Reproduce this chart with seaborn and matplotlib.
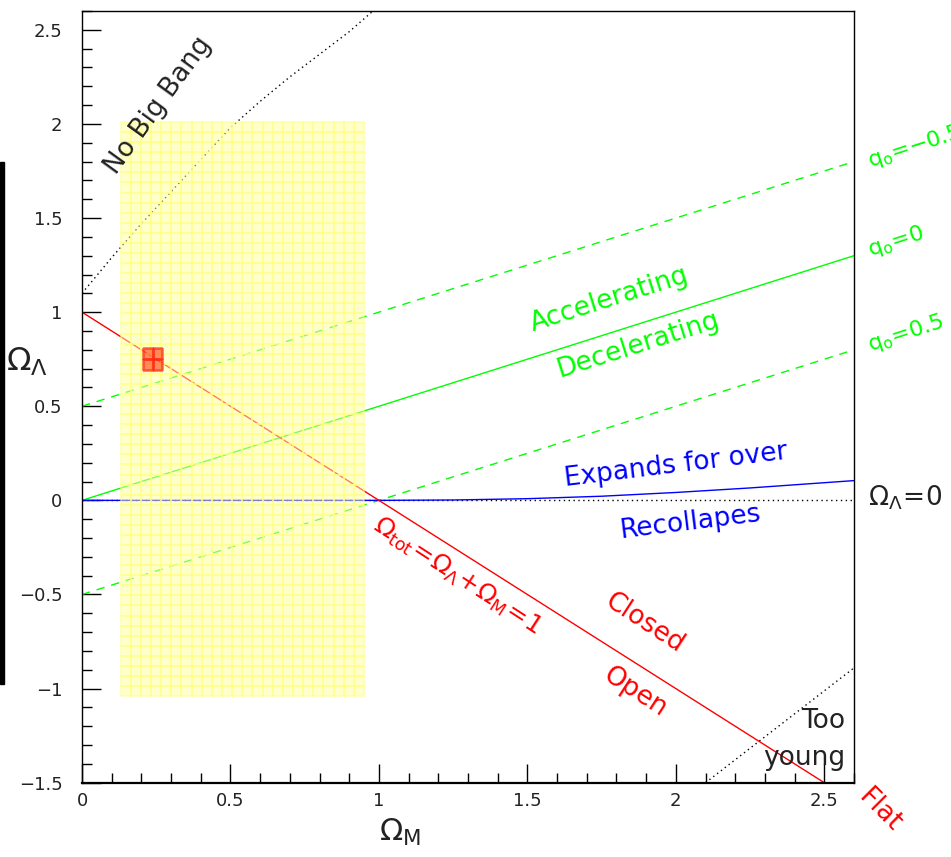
import numpy as np
import pandas as pd
import matplotlib
matplotlib.use('Agg')
import matplotlib.pyplot as plt
from matplotlib.colors import ListedColormap
from matplotlib.patches import Rectangle
import seaborn as sns

# ---- data ----
flat_m = [0.0, 2.5]
flat_l = [1.0, -1.5]

q_m = [0.0, 2.6]
q_minus = [0.5, 1.8]
q_zero = [0.0, 1.3]
q_plus = [-0.5, 0.8]

expand_m = [0.0, 1.0, 1.25, 1.5, 1.75, 2.0, 2.25, 2.6]
expand_l = [0.0, 0.0, 0.002, 0.009, 0.022, 0.042, 0.066, 0.105]

nobang_m = [0.0, 0.1, 0.2, 0.3, 0.4, 0.5, 0.6, 0.7, 0.8, 0.9, 0.98]
nobang_l = [1.10, 1.29, 1.47, 1.64, 1.81, 1.98, 2.12, 2.25, 2.37, 2.49, 2.60]

young_m = [2.1, 2.6]
young_l = [-1.5, -0.89]

zero_m = [0.0, 2.6]
zero_l = [0.0, 0.0]

box_m = [0.13, 0.95]
box_l = [-1.04, 2.01]
meas_m = [0.205, 0.27]
meas_l = [0.69, 0.81]

x_ticks = [0, 0.5, 1, 1.5, 2, 2.5]
x_labels = ['0', '0.5', '1', '1.5', '2', '2.5']
y_ticks = [-1.5, -1, -0.5, 0, 0.5, 1, 1.5, 2, 2.5]
y_labels = ['\u22121.5', '\u22121', '\u22120.5', '0', '0.5', '1', '1.5', '2', '2.5']

RED = '#ff0000'
GREEN = '#00ff00'
BLUE = '#0000ff'
INK = '#222222'

sns.set_style('white')
plt.rcParams['font.family'] = ['DejaVu Sans']
plt.rcParams['mathtext.fontset'] = 'dejavusans'

fig = plt.figure(figsize=(9.51, 8.57), dpi=100)
ax = fig.add_axes([82 / 951, 1 - 782.7 / 857, (854 - 82) / 951, (782.7 - 11) / 857])

def line(xs, ys, color, ls='-', lw=1.0, z=2):
    df = pd.DataFrame({'x': xs, 'y': ys})
    sns.lineplot(data=df, x='x', y='y', ax=ax, color=color, linestyle=ls,
                 linewidth=lw, zorder=z, estimator=None, sort=False)

line(zero_m, zero_l, 'black', ls=(0, (1, 2.5)), lw=1.0)
line(nobang_m, nobang_l, 'black', ls=(0, (1, 2.5)), lw=1.0)
line(young_m, young_l, 'black', ls=(0, (1, 2.5)), lw=1.0)
line(q_m, q_minus, GREEN, ls=(0, (6, 5)))
line(q_m, q_zero, GREEN)
line(q_m, q_plus, GREEN, ls=(0, (6, 5)))
line(expand_m, expand_l, BLUE)
line(flat_m, flat_l, RED)

# yellow allowed region (2D box with fine cell grid)
bx = np.linspace(box_m[0], box_m[1], 25)
by = np.linspace(box_l[0], box_l[1], 58)
ax.pcolormesh(bx, by, np.zeros((len(by) - 1, len(bx) - 1)),
              cmap=ListedColormap(['#ffff99']), edgecolors='#ffff80',
              linewidth=0.35, alpha=0.5, zorder=3)

# measurement square
mx = np.linspace(meas_m[0], meas_m[1], 3)
my = np.linspace(meas_l[0], meas_l[1], 3)
ax.pcolormesh(mx, my, np.zeros((2, 2)), cmap=ListedColormap(['#ff2a10']),
              edgecolors='#ff2a10', linewidth=0.8, alpha=0.55, zorder=4)

ax.set_xlim(0, 2.6)
ax.set_ylim(-1.5, 2.6)
ax.set_xlabel('')
ax.set_ylabel('')

ax.set_xticks(x_ticks)
ax.set_xticklabels(x_labels)
ax.set_yticks(y_ticks)
ax.set_yticklabels(y_labels)
ax.set_xticks(np.arange(0, 2.61, 0.1), minor=True)
ax.set_yticks(np.arange(-1.5, 2.61, 0.1), minor=True)
ax.tick_params(which='both', direction='in', bottom=True, left=True,
               top=False, right=False, color='black', width=1.0,
               labelsize=13, labelcolor=INK)
ax.tick_params(which='major', length=14)
ax.tick_params(which='minor', length=7)
ax.tick_params(axis='x', pad=7)
ax.tick_params(axis='y', pad=14)
for sp in ax.spines.values():
    sp.set_color('black')
    sp.set_linewidth(1.0)
ax.spines['bottom'].set_linewidth(1.6)

# axis titles
ax.text(0.412, -0.064, r'$\Omega_{\mathrm{M}}$', transform=ax.transAxes,
        ha='center', va='center', fontsize=22, color=INK)
ax.text(-0.071, 0.545, r'$\Omega_{\Lambda}$', transform=ax.transAxes,
        ha='center', va='center', fontsize=23, color=INK)

# annotations
kw = dict(ha='center', va='center', rotation_mode='anchor', fontsize=19, clip_on=False)
ax.text(0.256, 2.10, 'No Big Bang', rotation=54, color=INK, **kw)
ax.text(1.778, 1.064, 'Accelerating', rotation=17.6, color=GREEN, **kw)
ax.text(1.872, 0.824, 'Decelerating', rotation=17.6, color=GREEN, **kw)
ax.text(2.0, 0.186, 'Expands for over', rotation=7, color=BLUE, **kw)
ax.text(2.047, -0.117, 'Recollapes', rotation=7, color=BLUE, **kw)
ax.text(1.263, -0.40,
        r'$\Omega_{\mathrm{tot}}\!=\!\Omega_{\Lambda}\!+\!\Omega_{\mathrm{M}}\!=\!1$',
        rotation=-33, color=RED, ha='center', va='center',
        rotation_mode='anchor', fontsize=18, clip_on=False)
ax.text(1.896, -0.654, 'Closed', rotation=-33, color=RED, **kw)
ax.text(1.862, -1.02, 'Open', rotation=-33, color=RED, **kw)
ax.text(2.687, -1.649, 'Flat', rotation=-45, color=RED, **kw)
ax.text(2.57, -1.17, 'Too', ha='right', va='center', fontsize=19,
        color=INK, clip_on=False)
ax.text(2.57, -1.367, 'young', ha='right', va='center', fontsize=19,
        color=INK, clip_on=False)

lkw = dict(ha='left', va='center', rotation_mode='anchor', fontsize=16,
           color=GREEN, rotation=18, clip_on=False)
ax.text(2.647, 1.80, r'q$_\mathrm{o}$=$-$0.5', **lkw)
ax.text(2.647, 1.327, r'q$_\mathrm{o}$=0', **lkw)
ax.text(2.647, 0.823, r'q$_\mathrm{o}$=0.5', **lkw)
ax.text(2.647, 0.016, r'$\Omega_{\Lambda}\!=\!0$', ha='left', va='center',
        fontsize=19, color=INK, clip_on=False)

# black bar at the left edge of the canvas
fig.patches.append(Rectangle((0, (857 - 684) / 857), 4 / 951, (684 - 162) / 857,
                             transform=fig.transFigure, color='black'))

fig.savefig('out.png', dpi=100)
